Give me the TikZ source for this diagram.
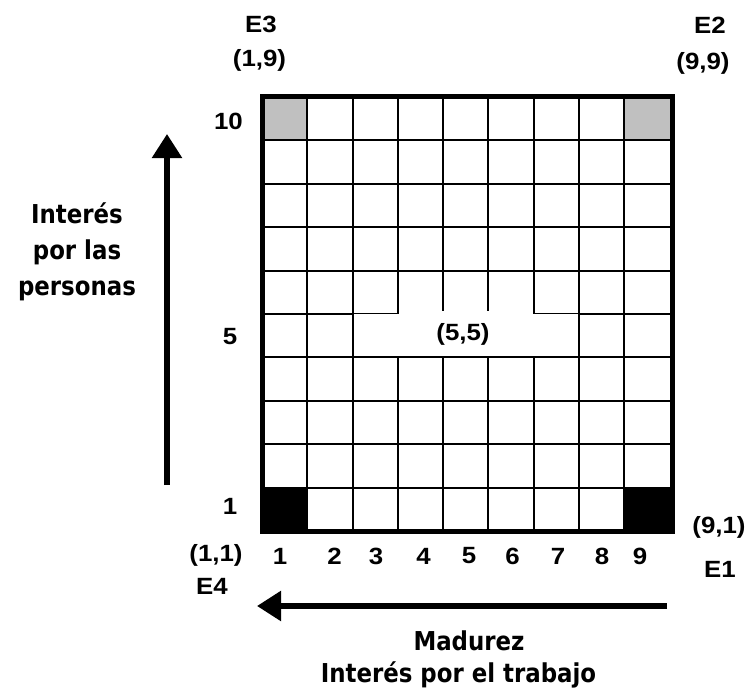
\documentclass[tikz,border=0pt]{standalone}
\usepackage{fontspec}
\setmainfont{Liberation Sans}
\newfontfamily\numfont[FakeStretch=1.1]{Liberation Sans}
\newfontfamily\axisfont[FakeStretch=0.88]{DejaVu Sans}
\usetikzlibrary{arrows.meta}
\definecolor{cellgray}{HTML}{C0C0C0}
\begin{document}
\begin{tikzpicture}[x=1pt,y=-1pt,
  num/.style={font=\numfont\bfseries\fontsize{23.5}{28}\selectfont, inner sep=0pt},
  axislbl/.style={font=\axisfont\bfseries\fontsize{26}{36}\selectfont, inner sep=0pt, align=center},
  gridline/.style={line width=2pt},
  border/.style={line width=5pt},
  bigarrow/.style={line width=5.5pt, -{Triangle[width=29pt,length=24pt]}}]
\useasboundingbox (0,0) rectangle (748,693);
% corner cells
\fill[cellgray] (262,97) rectangle (307,140.4);
\fill[cellgray] (624,97) rectangle (672,140.4);
\fill[black] (262,487.6) rectangle (307,531);
\fill[black] (624,487.6) rectangle (672,531);
% grid lines
\foreach \x in {307,352.5,397.5,443,488,534,579,624}
  \draw[gridline] (\x,97) -- (\x,531);
\foreach \k in {1,...,9}
  \draw[gridline] (262,97+43.4*\k) -- (672,97+43.4*\k);
% merged centre cell (5,5)
\fill[white] (353.6,314.4) rectangle (578,355.6);
\fill[white] (398.6,311) rectangle (533,316);
% outer border
\draw[border] (262,97) rectangle (672,531);
\draw[line width=3pt] (673.5,94.5) -- (673.5,533.5);
% centre label
\node[num] (c55) at (463,334) {(5,5)};
% corner labels
\node[num] (e3) at (261,24) {E3};
\node[num] (p19) at (259.5,60) {(1,9)};
\node[num] (e2) at (710,25) {E2};
\node[num] (p99) at (703,63) {(9,9)};
\node[num] (p91) at (719,527) {(9,1)};
\node[num] (e1) at (720,569) {E1};
\node[num] (p11) at (216,555) {(1,1)};
\node[num] (e4) at (212,586) {E4};
% row numbers
\node[num] (r10) at (228.5,121) {10};
\node[num] (r5) at (230,337) {5};
\node[num] (r1) at (230,506) {1};
% column numbers
\foreach \n/\x in {1/280,2/334.5,3/376,4/423.5,5/469,6/512.5,7/558,8/602,9/640}
  \node[num] (col\n) at (\x,556) {\n};
% axes
\coordinate (vs) at (167,485);
\coordinate (ve) at (167,134);
\draw[bigarrow] (vs) -- (ve);
\coordinate (hs) at (667,606);
\coordinate (he) at (257,606);
\draw[bigarrow] (hs) -- (he);
\node[axislbl] (ylab) at (77,252) {Interés\\por las\\personas};
\node[axislbl] (xlab1) at (469,641) {Madurez};
\node[axislbl] (xlab2) at (458.5,675) {Interés por el trabajo};
\end{tikzpicture}
\end{document}
